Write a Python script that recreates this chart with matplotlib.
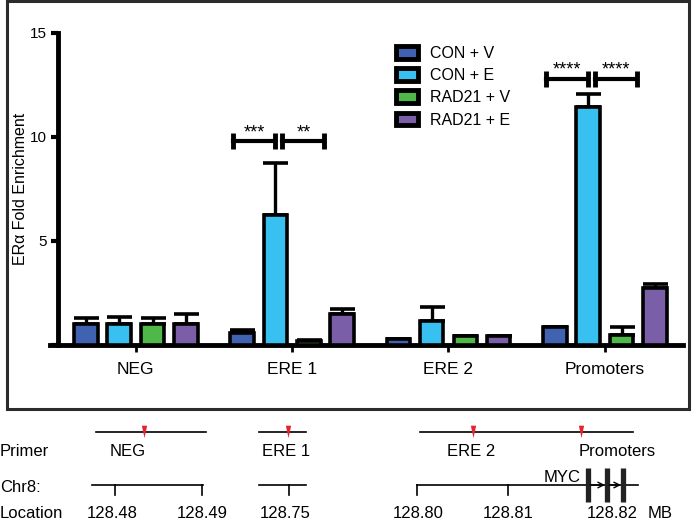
import matplotlib
matplotlib.use("Agg")
import matplotlib.pyplot as plt
from matplotlib.patches import Rectangle, Patch
import numpy as np

plt.rcParams['font.family'] = ['Liberation Sans', 'DejaVu Sans']

# ---- chart data ----
regions = ["NEG", "ERE 1", "ERE 2", "Promoters"]
groups = ["CON + V", "CON + E", "RAD21 + V", "RAD21 + E"]
colors = ["#4062b0", "#38c1f0", "#4fb848", "#7a5ea8"]

con_v = [1.0, 0.57, 0.30, 0.85]
con_e = [1.0, 6.25, 1.15, 11.45]
rad_v = [1.0, 0.20, 0.45, 0.50]
rad_e = [1.0, 1.50, 0.45, 2.75]

con_v_err = [0.30, 0.13, 0.0, 0.0]
con_e_err = [0.35, 2.50, 0.70, 0.60]
rad_v_err = [0.30, 0.05, 0.0, 0.35]
rad_e_err = [0.50, 0.25, 0.0, 0.20]

# significance brackets: (x start, x end, height, label)
brackets = [
    (0.619, 0.893, 9.8, "***"),
    (0.938, 1.206, 9.8, "**"),
    (2.623, 2.891, 12.8, "****"),
    (2.936, 3.204, 12.8, "****"),
]

# ---- genome map (schematic, pixel layout) ----
primer_segs = [(96, 206), (259, 306), (420, 633)]
primer_marks = [144, 288, 473, 581]
primer_names = ["NEG", "ERE 1", "ERE 2", "Promoters"]
primer_name_x = [128, 286, 471, 617]
chr_segs = [(92, 203), (259, 306), (417, 638)]
chr_ticks = [115, 202, 289, 417, 508]
loc_labels = ["128.48", "128.49", "128.75", "128.80", "128.81", "128.82", "MB"]
loc_x = [112, 202, 285, 418, 508, 612, 660]
myc_exons = [588, 607, 623]

W, H = 692, 521
fig = plt.figure(figsize=(W / 100, H / 100), dpi=100)

# background axes in pixel coordinates for box + map
gax = fig.add_axes([0, 0, 1, 1])
gax.set_xlim(0, W)
gax.set_ylim(H, 0)
gax.axis("off")
gax.add_patch(Rectangle((7, 1), 682, 408, fill=False, lw=2.2, ec="#2b2b2b"))

fs_map = 12
ys_primer, ys_chr = 432, 485
for a, b in primer_segs:
    gax.plot([a, b], [ys_primer, ys_primer], color="black", lw=1.2)
tri = [(-1, 2.2), (1, 2.2), (0, -2.5), (-1, 2.2)]
gax.scatter(primer_marks, [ys_primer - 1] * len(primer_marks), marker=tri, s=90,
            color="#e3262e", zorder=3, linewidths=0)
for name, x in zip(primer_names, primer_name_x):
    gax.text(x, 452, name, ha="center", va="center", fontsize=fs_map)

for a, b in chr_segs:
    gax.plot([a, b], [ys_chr, ys_chr], color="black", lw=1.2)
for x in chr_ticks:
    gax.plot([x, x], [ys_chr, ys_chr + 10], color="black", lw=1.2)
for lab, x in zip(loc_labels, loc_x):
    gax.text(x, 514, lab, ha="center", va="center", fontsize=fs_map)

gax.text(0, 452, "Primer", ha="left", va="center", fontsize=fs_map)
gax.text(0, 487, "Chr8:", ha="left", va="center", fontsize=fs_map)
gax.text(0, 514, "Location", ha="left", va="center", fontsize=fs_map)

gax.text(562, 477, "MYC", ha="center", va="center", fontsize=fs_map)
for x in myc_exons:
    gax.plot([x, x], [468, 502], color="#222222", lw=3.8, solid_capstyle="butt")
for a, b in zip(myc_exons[:-1], myc_exons[1:]):
    gax.annotate("", xy=(b - 2, ys_chr), xytext=(a + 2, ys_chr),
                 arrowprops=dict(arrowstyle="->", lw=1.0, color="black",
                                 shrinkA=0, shrinkB=0))

# ---- main bar chart ----
x0_pix, x1_pix = 50, 683
ax = fig.add_axes([x0_pix / W, 1 - 345 / H, (x1_pix - x0_pix) / W, (345 - 33) / H])
x = np.arange(len(regions))
offsets = [-0.32, -0.107, 0.107, 0.32]
width = 0.15
series = [con_v, con_e, rad_v, rad_e]
errs = [con_v_err, con_e_err, rad_v_err, rad_e_err]
for vals, err, off, c, lab in zip(series, errs, offsets, colors, groups):
    ax.bar(x + off, vals, width, color=c, edgecolor="black", linewidth=2.6,
           label=lab, zorder=3)
    ax.errorbar(x + off, vals, yerr=[np.zeros(len(vals)), err], fmt="none",
                ecolor="black", elinewidth=2.4, capsize=9, capthick=2.6, zorder=2)

for xa, xb, h, lab in brackets:
    ax.plot([xa, xb], [h, h], color="black", lw=3, zorder=4)
    ax.plot([xa, xb], [h, h], ls="none", marker="|", ms=12, mew=3.5,
            color="black", zorder=4)
    ax.text((xa + xb) / 2, h + 0.2, lab, ha="center", va="baseline", fontsize=13)

ax.set_xlim(-0.549, 3.5)
ax.set_ylim(0, 15)
ax.spines["left"].set_position(("data", -0.5))
ax.set_yticks([0, 5, 10, 15])
ax.set_yticklabels(["", "5", "10", "15"])
ax.set_xticks(x)
ax.set_xticklabels(regions, fontsize=12.5)
ax.tick_params(axis="y", length=5, width=3, labelsize=11, pad=3)
ax.tick_params(axis="x", length=5, width=2, pad=7)
for s in ["top", "right"]:
    ax.spines[s].set_visible(False)
ax.spines["left"].set_linewidth(3.5)
ax.spines["bottom"].set_linewidth(3.5)
ax.set_ylabel("ERα Fold Enrichment", fontsize=11.5)
ax.yaxis.set_label_coords((28 - x0_pix) / (x1_pix - x0_pix), 0.5)
ax.patch.set_alpha(0)

handles = [Patch(facecolor=c, edgecolor="black", linewidth=3.5) for c in colors]
ax.legend(handles, groups, loc="upper left", bbox_to_anchor=(396 / W, 1 - 46 / H),
          bbox_transform=fig.transFigure, frameon=False, fontsize=11.5,
          handlelength=1.4, handleheight=0.85, handletextpad=0.75,
          labelspacing=0.45, borderpad=0, borderaxespad=0)

fig.savefig("out.png", dpi=100)
